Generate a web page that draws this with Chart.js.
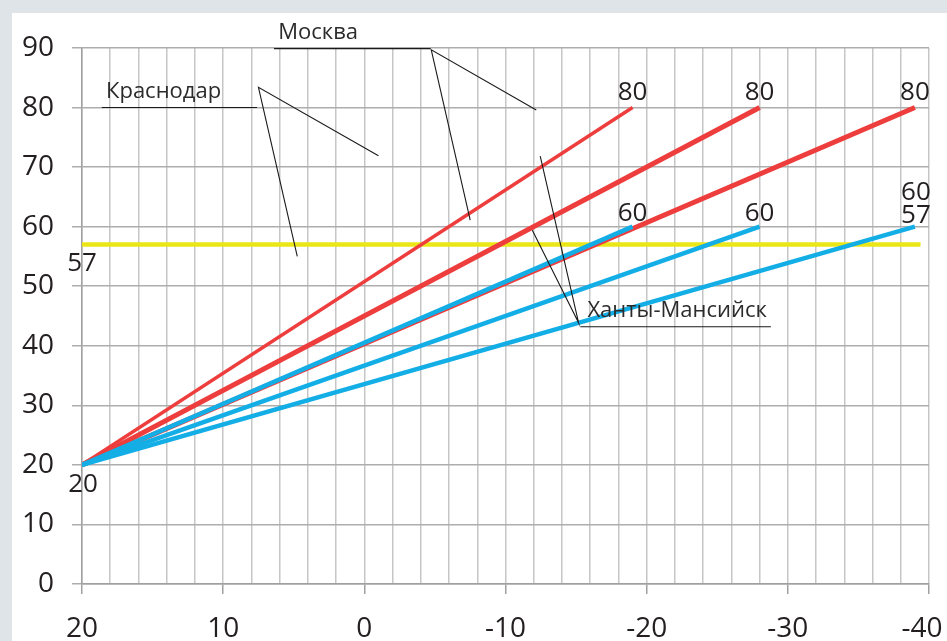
<!DOCTYPE html>
<html>
<head>
<meta charset="utf-8">
<script src="https://cdn.jsdelivr.net/npm/chart.js@4.4.1/dist/chart.umd.min.js"></script>
<style>
    html, body { margin: 0; padding: 0; background: #dfe4e8; }
    #wrap { position: absolute; left: 0; top: 0; width: 947px; height: 641px; overflow: hidden; }
    #panel { position: absolute; left: 12px; top: 13px; right: 0; bottom: 0; background: #fff; }
    canvas { position: absolute; left: 0; top: 0; }
</style>
</head>
<body>
<div id="wrap">
    <div id="panel"></div>
    <canvas id="chart" width="947" height="641"></canvas>
</div>
<script>
// values
const startPoint = { x: 20, y: 20 };
const outdoorDesign = [-19, -28, -39];
const supplyTemp = [80, 80, 80];
const returnTemp = [60, 60, 60];
const hotWaterTemp = 57;
const hotWaterRange = [20, -39.4];
const xRange = [-40, 20];
const yRange = [0, 90];

// city callouts, in chart units
const cityNames = ["Краснодар", "Москва", "Ханты-Мансийск"];
const cityTextAt = [[18.3, 81.6], [6.1, 91.5], [-15.8, 44.9]];
const cityUnderline = [[18.6, 7.6, 80.0], [6.4, -4.7, 89.9], [-15.3, -28.8, 43.2]];
const cityPointers = [
    [[7.5, 83.4], [-1.0, 71.9], [4.75, 55.0]],
    [[-4.74, 89.7], [-12.18, 79.6], [-7.5, 61.1]],
    [[-15.18, 43.85], [-12.46, 71.86], [-11.9, 59.4]],
];

const RED = "#ee3d3d";
const BLUE = "#14aee6";
const YELLOW = "#ebe617";
const redWidths = [3.5, 5, 5];
const TEXT = "#231f20";

const lineSet = function (endX, endY, color, width) {
    return {
        data: [{ x: startPoint.x, y: startPoint.y }, { x: endX, y: endY }],
        borderColor: color,
        backgroundColor: color,
        borderWidth: width,
        showLine: true,
        pointRadius: 0,
        fill: false,
    };
};

const datasets = [];
outdoorDesign.forEach(function (t, i) {
    datasets.push(lineSet(t, returnTemp[i], BLUE, 4.5));
});
outdoorDesign.forEach(function (t, i) {
    datasets.push(lineSet(t, supplyTemp[i], RED, redWidths[i]));
});
datasets.push({
    data: [{ x: hotWaterRange[0], y: hotWaterTemp }, { x: hotWaterRange[1], y: hotWaterTemp }],
    borderColor: YELLOW,
    borderWidth: 4.5,
    showLine: true,
    pointRadius: 0,
});

const overlay = {
    id: "overlay",
    afterDatasetsDraw(chart) {
        const ctx = chart.ctx;
        const px = (v) => chart.scales.x.getPixelForValue(v);
        const py = (v) => chart.scales.y.getPixelForValue(v);
        ctx.save();

        // callouts
        ctx.strokeStyle = "#1a1a1a";
        ctx.lineWidth = 1.1;
        cityNames.forEach(function (name, i) {
            const u = cityUnderline[i];
            ctx.beginPath();
            ctx.moveTo(px(u[0]), py(u[2]));
            ctx.lineTo(px(u[1]), py(u[2]));
            ctx.stroke();

            const p = cityPointers[i];
            ctx.beginPath();
            ctx.moveTo(px(p[1][0]), py(p[1][1]));
            ctx.lineTo(px(p[0][0]), py(p[0][1]));
            ctx.lineTo(px(p[2][0]), py(p[2][1]));
            ctx.stroke();

            ctx.font = '22px "Open Sans"';
            ctx.fillStyle = "#2b2b2b";
            ctx.textAlign = "left";
            ctx.textBaseline = "alphabetic";
            ctx.fillText(name, px(cityTextAt[i][0]), py(cityTextAt[i][1]));
        });

        // value labels
        ctx.font = '26px "Open Sans"';
        ctx.fillStyle = TEXT;
        ctx.textAlign = "center";
        ctx.textBaseline = "alphabetic";
        outdoorDesign.forEach(function (t, i) {
            ctx.fillText(String(supplyTemp[i]), px(t), py(supplyTemp[i]) - 8);
        });
        outdoorDesign.forEach(function (t, i) {
            if (i < 2) {
                ctx.fillText(String(returnTemp[i]), px(t), py(returnTemp[i]) - 6);
            } else {
                ctx.fillText(String(returnTemp[i]), px(t) + 1, py(returnTemp[i]) - 27);
                ctx.fillText(String(hotWaterTemp), px(t) + 1, py(returnTemp[i]) - 4);
            }
        });
        ctx.fillText(String(startPoint.y), px(startPoint.x) + 1, py(startPoint.y) + 27);
        ctx.fillText(String(hotWaterTemp), px(hotWaterRange[0]), py(hotWaterTemp) + 26);

        ctx.restore();
    },
};

function drawChart() {
    const chartCtx = document.getElementById("chart").getContext("2d");
    new Chart(chartCtx, {
        type: "scatter",
        data: { datasets: datasets },
        options: {
            responsive: false,
            animation: false,
            devicePixelRatio: 1,
            layout: { padding: { top: 48, right: 18, bottom: 0, left: 0 } },
            plugins: {
                legend: { display: false },
                tooltip: { enabled: false },
            },
            scales: {
                x: {
                    type: "linear",
                    reverse: true,
                    min: xRange[0],
                    max: xRange[1],
                    afterFit: function (scale) {
                        scale.height = 57;
                        scale.paddingLeft = 0;
                        scale.paddingRight = 0;
                    },
                    ticks: {
                        stepSize: 2,
                        autoSkip: false,
                        maxRotation: 0,
                        padding: 18,
                        color: TEXT,
                        font: { family: "Open Sans", size: 28 },
                        callback: function (v) {
                            if (v % 10 !== 0) return "";
                            // last label sits a little inward, as in the original
                            return v === xRange[0] ? String(v) + "\u2002" : String(v);
                        },
                    },
                    grid: {
                        color: "#c6c6c6",
                        lineWidth: 1.5,
                        tickLength: 10,
                        tickColor: function (c) {
                            return c.tick && c.tick.value % 10 === 0 ? "#a0a0a0" : "rgba(0,0,0,0)";
                        },
                    },
                    border: { color: "#a0a0a0", width: 1.5 },
                },
                y: {
                    min: yRange[0],
                    max: yRange[1],
                    afterFit: function (scale) {
                        scale.width = 82;
                    },
                    ticks: {
                        stepSize: 10,
                        padding: 18,
                        color: TEXT,
                        font: { family: "Open Sans", size: 28 },
                    },
                    grid: {
                        color: "#adadad",
                        lineWidth: 1.5,
                        tickLength: 10,
                        tickColor: "#adadad",
                    },
                    border: { color: "#a0a0a0", width: 1.5 },
                },
            },
        },
        plugins: [overlay],
    });
}

if (document.fonts && document.fonts.load) {
    Promise.all([
        document.fonts.load('28px "Open Sans"'),
        document.fonts.load('22px "Open Sans"'),
    ]).then(drawChart, drawChart);
} else {
    drawChart();
}
</script>
</body>
</html>
